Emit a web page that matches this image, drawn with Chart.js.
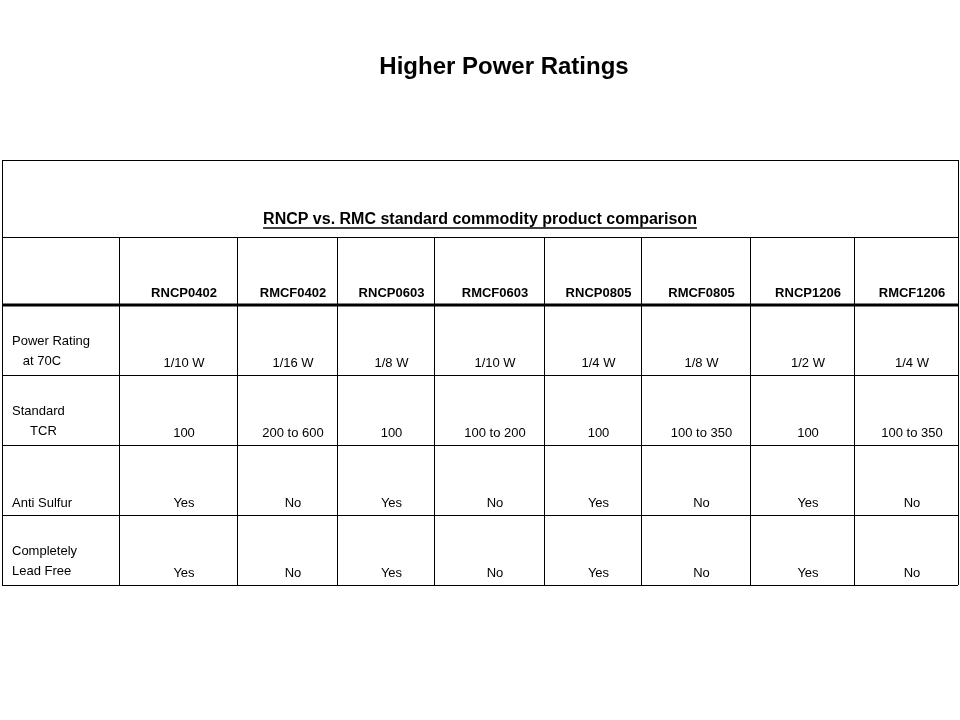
<!DOCTYPE html>
<html><head><meta charset="utf-8">
<script src="https://cdn.jsdelivr.net/npm/chart.js@4/dist/chart.umd.min.js"></script>
<style>body{margin:0;background:#fff}</style></head>
<body><canvas id="c" width="960" height="720"></canvas>
<script>
const title = "Higher Power Ratings";
const tableTitle = "RNCP vs. RMC standard commodity product comparison";
const columns = ["RNCP0402","RMCF0402","RNCP0603","RMCF0603","RNCP0805","RMCF0805","RNCP1206","RMCF1206"];
const rowLabels = [["Power Rating","   at 70C"],["Standard","     TCR"],["Anti Sulfur"],["Completely","Lead Free"]];
const powerRating = ["1/10 W","1/16 W","1/8 W","1/10 W","1/4 W","1/8 W","1/2 W","1/4 W"];
const standardTCR = ["100","200 to 600","100","100 to 200","100","100 to 350","100","100 to 350"];
const antiSulfur = ["Yes","No","Yes","No","Yes","No","Yes","No"];
const leadFree = ["Yes","No","Yes","No","Yes","No","Yes","No"];
const rows = [powerRating, standardTCR, antiSulfur, leadFree];

// layout (not data)
const colEdges = [2,119,237,337,434,544,641,750,854,958];
const rowEdges = [160,237,305,375,445,515,585];
const F = "'Liberation Sans', Arial, sans-serif";

const tablePlugin = {
  id:'table',
  afterDraw(chart){
    const ctx = chart.ctx, xs = chart.scales.x, ys = chart.scales.y;
    const X = v=>xs.getPixelForValue(v), Y = v=>ys.getPixelForValue(v);
    ctx.save();
    ctx.fillStyle='#000';
    ctx.textAlign='center'; ctx.textBaseline='alphabetic';
    ctx.font="bold 24px "+F;
    ctx.fillText(title, X(504), Y(74));
    ctx.strokeStyle='#000'; ctx.lineWidth=1;
    ctx.beginPath();
    rowEdges.forEach((r,i)=>{ if(i!==2){ctx.moveTo(X(colEdges[0]),Y(r)+0.5);ctx.lineTo(X(colEdges[9]),Y(r)+0.5);} });
    ctx.moveTo(X(colEdges[0])+0.5,Y(rowEdges[0]));ctx.lineTo(X(colEdges[0])+0.5,Y(rowEdges[6]));
    ctx.moveTo(X(colEdges[9])+0.5,Y(rowEdges[0]));ctx.lineTo(X(colEdges[9])+0.5,Y(rowEdges[6]));
    for(let i=1;i<9;i++){ctx.moveTo(X(colEdges[i])+0.5,Y(rowEdges[1]));ctx.lineTo(X(colEdges[i])+0.5,Y(rowEdges[6]));}
    ctx.stroke();
    ctx.lineWidth=3; ctx.beginPath();
    ctx.moveTo(X(colEdges[0]),Y(rowEdges[2]));ctx.lineTo(X(colEdges[9]),Y(rowEdges[2]));ctx.stroke();
    ctx.font="bold 16px "+F;
    const tx=X(480), ty=Y(224);
    ctx.fillText(tableTitle, tx, ty);
    const w=ctx.measureText(tableTitle).width;
    ctx.lineWidth=1.3; ctx.beginPath(); ctx.moveTo(tx-w/2,ty+4); ctx.lineTo(tx+w/2,ty+4); ctx.stroke();
    ctx.font="bold 13px "+F;
    columns.forEach((c,i)=>ctx.fillText(c,(X(colEdges[i+1])+X(colEdges[i+2]))/2+6,Y(297)));
    ctx.font="13px "+F;
    rows.forEach((vals,r)=>{
      const bottom = Y(rowEdges[r+3]-8);
      vals.forEach((v,i)=>ctx.fillText(v,(X(colEdges[i+1])+X(colEdges[i+2]))/2+6,bottom));
      ctx.textAlign='left';
      const lines=rowLabels[r];
      lines.forEach((l,k)=>ctx.fillText(l,X(12),bottom-(lines.length-1-k)*20-(lines.length===2?2:0)));
      ctx.textAlign='center';
    });
    ctx.restore();
  }
};
new Chart(document.getElementById('c'),{
  type:'scatter',
  data:{datasets:[{data:[]}]},
  options:{responsive:false,animation:false,
    layout:{padding:0},
    plugins:{legend:{display:false},tooltip:{enabled:false}},
    scales:{x:{type:'linear',min:0,max:960,display:false},
            y:{type:'linear',min:0,max:720,reverse:true,display:false}}},
  plugins:[tablePlugin]
});
</script></body></html>
